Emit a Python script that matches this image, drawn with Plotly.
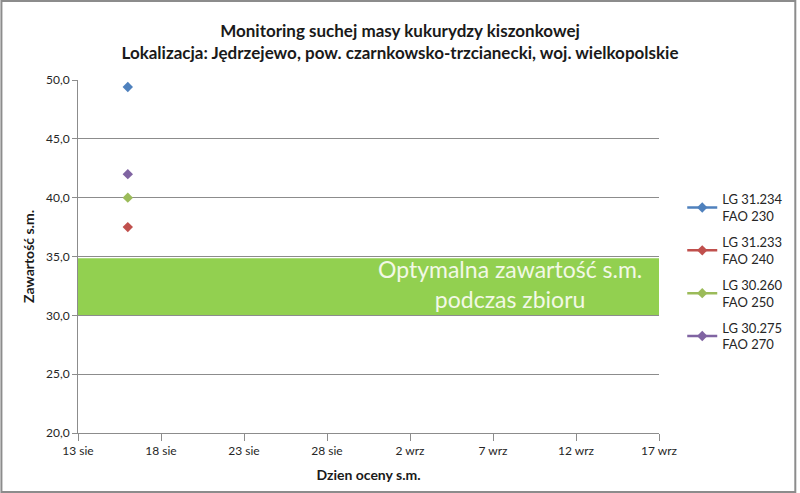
import plotly.graph_objects as go

# dane
dni_oceny = ["2013-08-16"]
odmiany = ["LG 31.234<br>FAO 230", "LG 31.233<br>FAO 240",
           "LG 30.260<br>FAO 250", "LG 30.275<br>FAO 270"]
sucha_masa = [[49.4], [37.5], [40.0], [42.0]]
kolory = ["#4F81BD", "#C0504D", "#9BBB59", "#8064A2"]

tick_daty = ["2013-08-13", "2013-08-18", "2013-08-23", "2013-08-28",
             "2013-09-02", "2013-09-07", "2013-09-12", "2013-09-17"]
tick_opisy = ["13 sie", "18 sie", "23 sie", "28 sie",
              "2 wrz", "7 wrz", "12 wrz", "17 wrz"]
y_ticki = [20, 25, 30, 35, 40, 45, 50]

optimum_od, optimum_do = 30.0, 34.85

FONT = "Lato, Open Sans, sans-serif"

fig = go.Figure()

# pas optymalnej zawartosci s.m.
fig.add_shape(type="rect", xref="paper", yref="y", x0=0, x1=1,
              y0=optimum_od, y1=optimum_do, fillcolor="#92D050",
              line=dict(width=0), layer="below")

for nazwa, wartosci, kolor in zip(odmiany, sucha_masa, kolory):
    fig.add_trace(go.Scatter(
        x=dni_oceny, y=wartosci, name=nazwa, legendgroup=nazwa,
        mode="lines+markers",
        line=dict(color=kolor, width=2.5),
        marker=dict(symbol="diamond", size=8, color=kolor),
    ))

fig.add_annotation(
    x="2013-09-08", y=(optimum_od + optimum_do) / 2 + 0.25, xref="x", yref="y",
    text="Optymalna zawartość s.m.<br>podczas zbioru", showarrow=False,
    font=dict(family=FONT, size=23, color="#F2F8E6"), align="center",
)

# ramka wykresu
fig.add_shape(type="rect", xref="paper", yref="paper",
              x0=-0.1318, x1=1.2346, y0=-0.167, y1=1.2238,
              line=dict(color="#8C8C8C", width=2))

fig.update_layout(
    width=800, height=493,
    paper_bgcolor="white", plot_bgcolor="white",
    margin=dict(l=78, r=138, t=80, b=60),
    font=dict(family=FONT, size=12, color="#262626"),
    separators=", ",
    title=dict(
        text="<b>Monitoring suchej masy kukurydzy kiszonkowej<br>"
             "Lokalizacja: Jędrzejewo, pow. czarnkowsko-trzcianecki, woj. wielkopolskie</b>",
        x=0.5, xanchor="center", y=0.925, yanchor="top",
        font=dict(family=FONT, size=17, color="#1a1a1a"),
    ),
    showlegend=True,
    legend=dict(x=1.04, xanchor="left", y=0.705, yanchor="top",
                font=dict(family=FONT, size=13, color="#262626"),
                tracegroupgap=6, itemwidth=30),
)

fig.update_xaxes(
    type="date", range=["2013-08-13", "2013-09-17"],
    tickvals=tick_daty, ticktext=tick_opisy,
    showgrid=False, showline=True, linecolor="#8C8C8C", linewidth=1,
    ticks="outside", tickcolor="#8C8C8C", ticklen=7,
    title=dict(text="<b>Dzien oceny s.m.</b>", font=dict(family=FONT, size=14, color="#1a1a1a"),
               standoff=12),
)
fig.update_yaxes(
    range=[20, 50], tickvals=y_ticki, tickformat=".1f",
    showgrid=True, gridcolor="#8C8C8C", gridwidth=1,
    showline=True, linecolor="#8C8C8C", linewidth=1,
    ticks="outside", tickcolor="#8C8C8C", ticklen=5, zeroline=False,
    title=dict(text="<b>Zawartość s.m.</b>", font=dict(family=FONT, size=14, color="#1a1a1a"),
               standoff=8),
)

# bez marginesu strony, zeby wykres zaczynal sie w lewym gornym rogu
fig.write_html("out.html", config={"displayModeBar": False},
               post_script="document.body.style.margin='0';")
